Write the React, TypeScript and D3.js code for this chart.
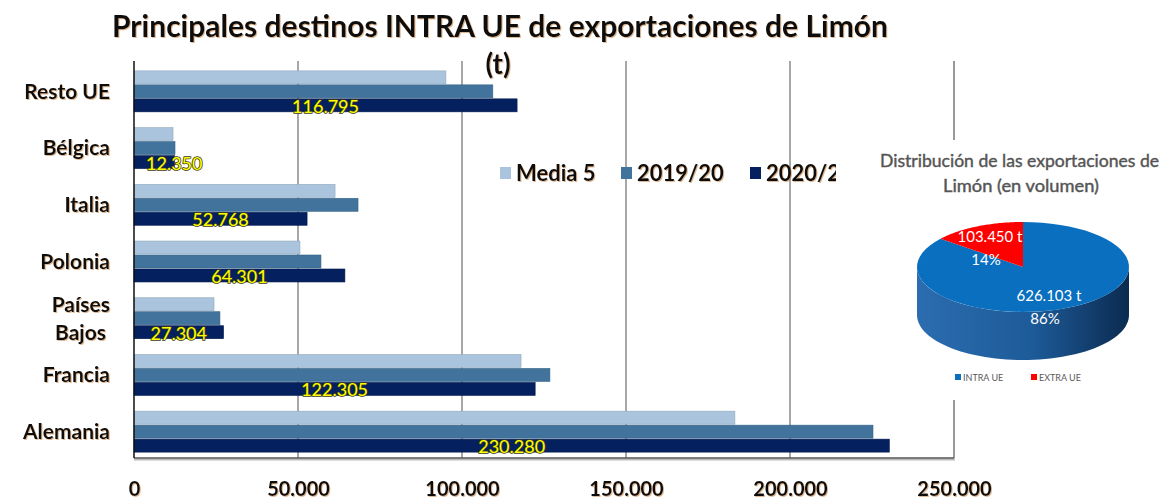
import React, { useEffect, useRef } from "react";
import * as d3 from "d3";

// bar chart data (t)
const categories = ["Resto UE", "Bélgica", "Italia", "Polonia", "Países Bajos", "Francia", "Alemania"];
const seriesNames = ["Media 5", "2019/20", "2020/21"];
const media5 = [95100, 11900, 61300, 50600, 24400, 118000, 183200];
const campaign1920 = [109400, 12500, 68300, 57000, 26200, 126800, 225300];
const campaign2021 = [116795, 12350, 52768, 64301, 27304, 122305, 230280];
const xTicks = [0, 50000, 100000, 150000, 200000, 250000];

// pie data
const pieLabels = ["INTRA UE", "EXTRA UE"];
const pieValues = [626103, 103450];

const barColors = ["#a9c4dc", "#41739c", "#04205e"];
const pieColors = ["#0a6fbf", "#fe0000"];

const fmt = d3.formatLocale({ decimal: ",", thousands: ".", grouping: [3], currency: ["", ""] }).format(",");

const App = () => {
  const ref = useRef<SVGSVGElement>(null);

  useEffect(() => {
    const width = 1164;
    const height = 500;
    const margin = { top: 63, left: 134, bottom: 40, right: 209 };
    const font = "Lato, 'Open Sans', sans-serif";

    const svg = d3.select(ref.current).attr("width", width).attr("height", height);
    svg.selectAll("*").remove();

    const defs = svg.append("defs");
    const grad = defs.append("linearGradient").attr("id", "pieSide");
    grad.append("stop").attr("offset", "0%").attr("stop-color", "#2c6db0");
    grad.append("stop").attr("offset", "55%").attr("stop-color", "#1d5a98");
    grad.append("stop").attr("offset", "100%").attr("stop-color", "#0b2b50");

    const shadow = defs.append("filter").attr("id", "txtShadow").attr("x", "-5%").attr("y", "-20%").attr("width", "110%").attr("height", "140%");
    shadow.append("feDropShadow").attr("dx", 1).attr("dy", 1).attr("stdDeviation", 0.6).attr("flood-color", "#c08040").attr("flood-opacity", 0.55);

    const plotBottom = height - margin.bottom - 2;
    const x = d3.scaleLinear().domain([0, 250000]).range([margin.left, width - margin.right - 1]);
    const y = d3.scaleBand().domain(categories).range([margin.top, plotBottom + 2]).paddingInner(0.26).paddingOuter(0.13);
    const yInner = d3.scaleBand().domain(seriesNames).range([0, y.bandwidth()]);

    // title
    svg.append("text")
      .attr("x", 112).attr("y", 37)
      .attr("textLength", 776).attr("lengthAdjust", "spacingAndGlyphs")
      .attr("font-family", font).attr("font-weight", "bold").attr("font-size", 29.5)
      .attr("fill", "#111").attr("filter", "url(#txtShadow)")
      .text("Principales destinos INTRA UE de exportaciones de Limón");
    svg.append("text")
      .attr("x", 498).attr("y", 74)
      .attr("text-anchor", "middle")
      .attr("font-family", font).attr("font-weight", "bold").attr("font-size", 28)
      .attr("fill", "#111").attr("filter", "url(#txtShadow)")
      .text("(t)");

    // grid
    svg.append("g")
      .selectAll("line")
      .data(xTicks.slice(1, -1))
      .enter().append("line")
      .attr("x1", (d) => x(d)).attr("x2", (d) => x(d))
      .attr("y1", margin.top - 2).attr("y2", plotBottom)
      .attr("stroke", "#8a8a8a").attr("stroke-width", 1.5);

    // bars
    const rows = categories.map((c, i) => ({ cat: c, values: [media5[i], campaign1920[i], campaign2021[i]] }));
    const groups = svg.append("g")
      .selectAll("g")
      .data(rows)
      .enter().append("g")
      .attr("transform", (d) => `translate(0, ${y(d.cat)})`);

    groups.selectAll("rect")
      .data((d) => d.values.map((v, j) => ({ v, s: seriesNames[j], j })))
      .enter().append("rect")
      .attr("x", x(0))
      .attr("y", (d) => yInner(d.s)! + 0.5)
      .attr("width", (d) => x(d.v) - x(0))
      .attr("height", yInner.bandwidth() - 1)
      .attr("fill", (d) => barColors[d.j])
      .attr("stroke", (d) => d3.color(barColors[d.j])!.darker(0.4).toString())
      .attr("stroke-width", 0.6);

    // data labels on last series (short bars: label starts just right of the axis)
    groups.append("text")
      .attr("x", (d) => (x(d.values[2]) - x(0) < 70 ? x(0) + 12 : (x(0) + x(d.values[2])) / 2))
      .attr("y", yInner("2020/21")! + yInner.bandwidth() / 2 + 3)
      .attr("dominant-baseline", "middle")
      .attr("text-anchor", (d) => (x(d.values[2]) - x(0) < 70 ? "start" : "middle"))
      .attr("font-family", font).attr("font-size", 18)
      .attr("fill", "#ffff00")
      .attr("stroke", "#3a3a1a").attr("stroke-width", 1.6)
      .attr("paint-order", "stroke")
      .text((d) => fmt(d.values[2]));

    // frame
    svg.append("line")
      .attr("x1", x(250000)).attr("x2", x(250000))
      .attr("y1", margin.top - 2).attr("y2", plotBottom)
      .attr("stroke", "#777").attr("stroke-width", 1.5);
    svg.append("line")
      .attr("x1", x(0)).attr("x2", x(250000) + 1)
      .attr("y1", plotBottom + 1.5).attr("y2", plotBottom + 1.5)
      .attr("stroke", "#bbb").attr("stroke-width", 2);
    svg.append("line")
      .attr("x1", x(0)).attr("x2", x(250000))
      .attr("y1", plotBottom).attr("y2", plotBottom)
      .attr("stroke", "#555").attr("stroke-width", 1.5);
    svg.append("line")
      .attr("x1", x(0)).attr("x2", x(0))
      .attr("y1", margin.top - 2).attr("y2", plotBottom)
      .attr("stroke", "#111").attr("stroke-width", 1.5);

    // x axis labels
    const xAxis = (g) =>
      g.attr("transform", `translate(0, ${plotBottom})`)
        .call(d3.axisBottom(x).tickValues(xTicks).tickSize(0).tickPadding(24).tickFormat((d) => fmt(d)))
        .call((g) => g.select(".domain").remove());
    svg.append("g").call(xAxis)
      .attr("font-family", font).attr("font-weight", "bold").attr("font-size", 20)
      .selectAll("text").attr("fill", "#111").attr("filter", "url(#txtShadow)");

    // y axis labels
    const yLab = svg.append("g")
      .attr("font-family", font).attr("font-weight", "bold").attr("font-size", 21)
      .attr("text-anchor", "end").attr("fill", "#111");
    categories.forEach((c) => {
      const cy = y(c)! + y.bandwidth() / 2;
      if (c === "Países Bajos") {
        yLab.append("text").attr("x", 110).attr("y", cy - 14).attr("dy", "0.35em").attr("filter", "url(#txtShadow)").text("Países");
        yLab.append("text").attr("x", 106).attr("y", cy + 14).attr("dy", "0.35em").attr("filter", "url(#txtShadow)").text("Bajos");
      } else {
        yLab.append("text").attr("x", 110).attr("y", cy).attr("dy", "0.35em").attr("filter", "url(#txtShadow)").text(c);
      }
    });

    // legend
    const legendX = [500, 621, 750];
    const legend = svg.append("g").attr("font-family", font).attr("font-weight", "bold").attr("font-size", 22);
    seriesNames.forEach((s, i) => {
      legend.append("rect").attr("x", legendX[i]).attr("y", 167).attr("width", 11).attr("height", 12).attr("fill", barColors[i]);
      legend.append("text").attr("x", legendX[i] + 16).attr("y", 181).attr("fill", "#111").attr("filter", "url(#txtShadow)").text(s);
    });

    // pie panel (overlaps legend)
    const panel = svg.append("g");
    panel.append("rect").attr("x", 836).attr("y", 140).attr("width", 328).attr("height", 260).attr("fill", "#fff");

    panel.append("text")
      .attr("x", 880).attr("y", 167)
      .attr("textLength", 279).attr("lengthAdjust", "spacingAndGlyphs")
      .attr("font-family", font).attr("font-size", 16.5).attr("fill", "#555")
      .attr("stroke", "#555").attr("stroke-width", 0.4)
      .text("Distribución  de las exportaciones de");
    panel.append("text")
      .attr("x", 943).attr("y", 192)
      .attr("textLength", 156).attr("lengthAdjust", "spacingAndGlyphs")
      .attr("font-family", font).attr("font-size", 16.5).attr("fill", "#555")
      .attr("stroke", "#555").attr("stroke-width", 0.4)
      .text("Limón (en volumen)");

    const cx = 1023, cy = 267, rx = 106, ry = 45, depth = 48;
    const pt = (a: number, dy = 0) => [cx + rx * Math.sin(a), cy - ry * Math.cos(a) + dy];
    const arcPts = (a0: number, a1: number, dy = 0) => d3.range(0, 61).map((k) => pt(a0 + ((a1 - a0) * k) / 60, dy));
    const line = d3.line();

    const slices = d3.pie<number>().sort(null)(pieValues);

    // side wall (front half: angles PI/2 .. 3PI/2)
    const sideTop = arcPts(Math.PI / 2, (3 * Math.PI) / 2);
    const sideBottom = arcPts((3 * Math.PI) / 2, Math.PI / 2, depth);
    panel.append("path")
      .attr("d", line([...sideTop, ...sideBottom] as [number, number][]) + "Z")
      .attr("fill", "url(#pieSide)");

    // top faces
    panel.selectAll("path.slice")
      .data(slices)
      .enter().append("path")
      .attr("class", "slice")
      .attr("d", (d) => line([[cx, cy], ...arcPts(d.startAngle, d.endAngle)] as [number, number][]) + "Z")
      .attr("fill", (d, i) => pieColors[i]);

    const pieText = panel.append("g").attr("font-family", font).attr("font-size", 15).attr("fill", "#fff").attr("text-anchor", "middle");
    const total = d3.sum(pieValues);
    const labelPos = [[1049, 301], [990, 242]];
    slices.forEach((d, i) => {
      pieText.append("text").attr("x", labelPos[i][0]).attr("y", labelPos[i][1]).text(`${fmt(pieValues[i])} t`);
      pieText.append("text").attr("x", labelPos[i][0] - 4).attr("y", labelPos[i][1] + 23).text(`${Math.round((pieValues[i] / total) * 100)}%`);
    });

    const pieLegX = [955, 1031];
    pieLabels.forEach((l, i) => {
      panel.append("rect").attr("x", pieLegX[i]).attr("y", 374).attr("width", 6).attr("height", 6).attr("fill", pieColors[i]);
      panel.append("text").attr("x", pieLegX[i] + 8).attr("y", 381)
        .attr("font-family", font).attr("font-size", 9).attr("fill", "#595959").text(l);
    });
  }, []);

  return (
    <div style={{ position: "absolute", left: 0, top: 0 }}>
      <svg ref={ref} style={{ display: "block", background: "#fff" }}></svg>
    </div>
  );
};

export default App;
